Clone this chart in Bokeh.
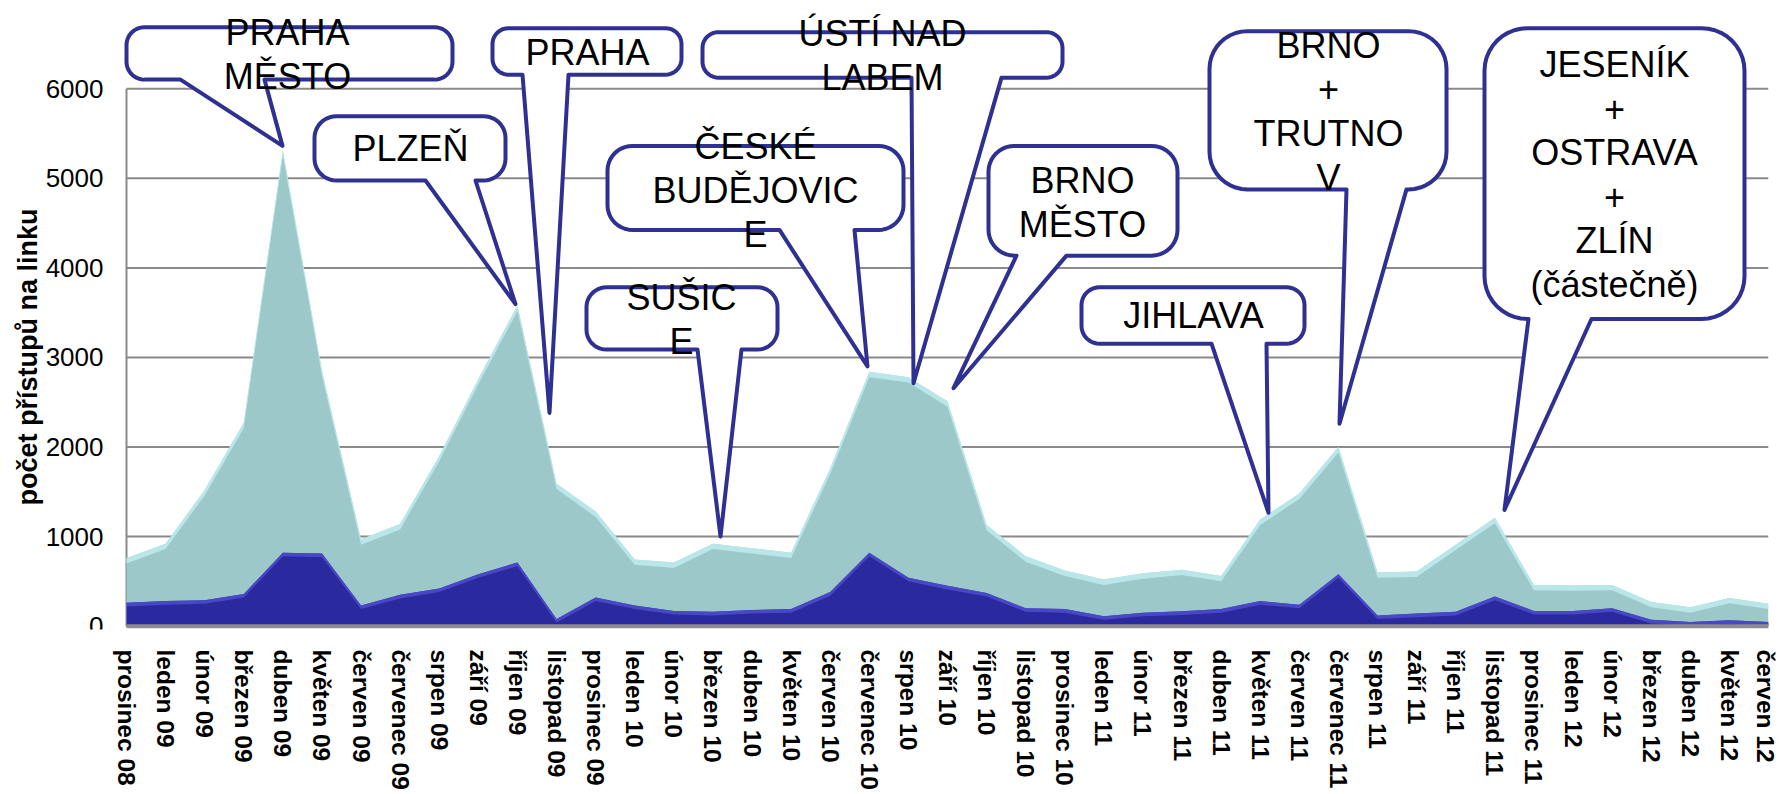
import math
from bokeh.plotting import figure
from bokeh.models import Range1d, FixedTicker, ColumnDataSource
from bokeh.core.properties import value
from bokeh.embed import file_html
from bokeh.resources import INLINE

# ---------------- data ----------------
months = ["prosinec 08", "leden 09", "únor 09", "březen 09", "duben 09", "květen 09",
          "červen 09", "červenec 09", "srpen 09", "září 09", "říjen 09", "listopad 09",
          "prosinec 09", "leden 10", "únor 10", "březen 10", "duben 10", "květen 10",
          "červen 10", "červenec 10", "srpen 10", "září 10", "říjen 10", "listopad 10",
          "prosinec 10", "leden 11", "únor 11", "březen 11", "duben 11", "květen 11",
          "červen 11", "červenec 11", "srpen 11", "září 11", "říjen 11", "listopad 11",
          "prosinec 11", "leden 12", "únor 12", "březen 12", "duben 12", "květen 12",
          "červen 12"]

series_light = [760, 920, 1520, 2270, 5310, 2850, 970, 1140, 1900, 2760,
                3580, 1590, 1280, 745, 710, 920, 870, 820, 1760, 2840,
                2780, 2510, 1130, 780, 620, 520, 590, 630, 560, 1190,
                1480, 2000, 600, 610, 910, 1210, 460, 455, 460, 270,
                210, 315, 250]

series_dark = [260, 280, 290, 360, 820, 810, 230, 350, 420, 580,
               710, 80, 320, 230, 170, 160, 180, 190, 380, 820,
               540, 450, 370, 200, 190, 110, 150, 165, 190, 280,
               240, 580, 120, 140, 160, 330, 170, 170, 200, 70,
               45, 65, 45]

y_ticks = [0, 1000, 2000, 3000, 4000, 5000, 6000]
y_tick_labels = ["0", "1000", "2000", "3000", "4000", "5000", "6000"]
y_title = "počet přístupů na linku"

callout_texts = [["PRAHA", "MĚSTO"], ["PLZEŇ"], ["PRAHA"], ["ÚSTÍ NAD", "LABEM"],
                 ["ČESKÉ", "BUDĚJOVIC", "E"], ["SUŠIC", "E"], ["BRNO", "MĚSTO"],
                 ["JIHLAVA"], ["BRNO", "+", "TRUTNO", "V"],
                 ["JESENÍK", "+", "OSTRAVA", "+", "ZLÍN", "(částečně)"]]

# ---------------- layout (page pixels) ----------------
W, H = 1778, 792
N = len(months)
X_FIRST_PX, X_LAST_PX = 126.0, 1768.0     # first / last category
Y_ZERO_PX, Y_6000_PX = 632.6, 89.3        # value 0 / value 6000
FRAME_BOTTOM_PX = 636.0
PX_PER_CAT = (X_LAST_PX - X_FIRST_PX) / (N - 1)
PX_PER_UNIT = (Y_ZERO_PX - Y_6000_PX) / 6000.0

X_START = -X_FIRST_PX / PX_PER_CAT
Y_END = Y_ZERO_PX / PX_PER_UNIT
Y_START = -(FRAME_BOTTOM_PX - Y_ZERO_PX) / PX_PER_UNIT


def to_data(X, Y):
    return (X - X_FIRST_PX) / PX_PER_CAT, (Y_ZERO_PX - Y) / PX_PER_UNIT


# callout geometry: box (x0, y0, x1, y1), corner radius, tail base x's, tip, first text line
callout_layout = [
    dict(box=(126, 27, 452, 80), r=18, tail=(180, 264), tip=(282, 147), tx=287, ty=32),
    dict(box=(314, 117, 505, 182), r=22, tail=(425, 475), tip=(515, 307), tx=410, ty=150),
    dict(box=(492, 28, 681, 75), r=16, tail=(522, 568), tip=(549, 417), tx=587, ty=53),
    dict(box=(702, 32, 1062, 78), r=16, tail=(911, 1001), tip=(913, 387), tx=882, ty=33),
    dict(box=(607, 147, 903, 232), r=25, tail=(779, 854), tip=(867, 370), tx=755, ty=147.5),
    dict(box=(586, 290, 777, 353), r=20, tail=(697, 741), tip=(720, 542), tx=681, ty=300),
    dict(box=(988, 147, 1177, 258), r=26, tail=(1016, 1066), tip=(953, 392), tx=1082, ty=181.5),
    dict(box=(1081, 290, 1304, 347), r=18, tail=(1211, 1266), tip=(1268, 518), tx=1193, ty=318),
    dict(box=(1209, 31, 1446, 191), r=38, tail=(1346, 1406), tip=(1339, 428), tx=1328, ty=45),
    dict(box=(1484, 28, 1744, 322), r=43, tail=(1528, 1591), tip=(1504, 515), tx=1614, ty=65),
]
LINE_STEP = 44.5

LIGHT_FILL = "#9cc8c9"
LIGHT_EDGE = "#c0eef0"
DARK_FILL = "#2a2a9e"
DARK_EDGE = "#4f4fd2"
CALLOUT_LINE = "#2e3192"
GRID = "#8a8a8a"
FONT = "Liberation Sans"

p = figure(width=W, height=H, output_backend="svg", toolbar_location=None,
           x_range=Range1d(X_START, N - 1), y_range=Range1d(Y_START, Y_END),
           min_border_left=0, min_border_right=int(W - X_LAST_PX),
           min_border_top=0, min_border_bottom=int(H - FRAME_BOTTOM_PX))
p.outline_line_color = None
p.background_fill_color = "white"
p.xgrid.visible = False
p.ygrid.visible = False
p.yaxis.visible = False

# x axis (category labels)
p.xaxis.ticker = FixedTicker(ticks=list(range(N)))
p.xaxis.major_label_overrides = {i: m for i, m in enumerate(months)}
p.xaxis.major_label_orientation = "vertical"
p.xaxis.major_label_text_font = FONT
p.xaxis.major_label_text_font_style = "bold"
p.xaxis.major_label_text_font_size = "24.5px"
p.xaxis.major_label_text_color = "black"
p.xaxis.major_label_standoff = 14
p.xaxis.major_tick_line_color = None
p.xaxis.minor_tick_line_color = None
p.xaxis.axis_line_color = None

# gridlines and value axis line
p.segment(x0=[0] * len(y_ticks), y0=y_ticks, x1=[N - 1] * len(y_ticks), y1=y_ticks,
          line_color=GRID, line_width=2)
p.segment(x0=[0], y0=[0], x1=[0], y1=[max(y_ticks)], line_color=GRID, line_width=2)

# y tick labels and title
lx, _ = to_data(103, 0)
p.text(x=[lx] * len(y_ticks), y=y_ticks, text=y_tick_labels,
       text_font=value(FONT), text_font_size=value("26px"), text_color="black",
       text_align="right", text_baseline="middle")
tx, ty = to_data(27, 360.5)
p.text(x=[tx], y=[ty], text=[y_title], angle=math.pi / 2,
       text_font=value(FONT), text_font_size=value("27px"), text_font_style="bold",
       text_color="black", text_align="center", text_baseline="middle")

xs = list(range(N))
light_band = [max(v - 60, 0) for v in series_light]
dark_band = [max(v - 40, 0) for v in series_dark]

p.varea(x=xs, y1=[0] * N, y2=series_light, fill_color=LIGHT_FILL)
p.varea(x=xs, y1=light_band, y2=series_light, fill_color=LIGHT_EDGE, fill_alpha=0.8)
p.varea(x=xs, y1=[0] * N, y2=series_dark, fill_color=DARK_FILL)
p.varea(x=xs, y1=dark_band, y2=series_dark, fill_color=DARK_EDGE, fill_alpha=0.8)

# floor / category axis line
p.segment(x0=[0], y0=[0], x1=[N - 1], y1=[0], line_color="#8c8c8c", line_width=4)


def arc(cx, cy, r, a0, a1, n=10):
    return [(cx + r * math.cos(math.radians(a0 + (a1 - a0) * k / n)),
             cy + r * math.sin(math.radians(a0 + (a1 - a0) * k / n))) for k in range(n + 1)]


px_all, py_all = [], []
tx_all, ty_all, tt_all = [], [], []
for lines, lay in zip(callout_texts, callout_layout):
    x0, y0, x1, y1 = lay["box"]
    r = lay["r"]
    pts = []
    pts += arc(x0 + r, y0 + r, r, 180, 270)
    pts += arc(x1 - r, y0 + r, r, 270, 360)
    pts += arc(x1 - r, y1 - r, r, 0, 90)
    tl, tr = lay["tail"]
    pts += [(tr, y1), lay["tip"], (tl, y1)]
    pts += arc(x0 + r, y1 - r, r, 90, 180)
    dpts = [to_data(X, Y) for X, Y in pts]
    px_all.append([q[0] for q in dpts])
    py_all.append([q[1] for q in dpts])
    for k, t in enumerate(lines):
        dx, dy = to_data(lay["tx"], lay["ty"] + k * LINE_STEP)
        tx_all.append(dx)
        ty_all.append(dy)
        tt_all.append(t)

p.patches(xs=px_all, ys=py_all, fill_color="white", line_color=CALLOUT_LINE,
          line_width=4, line_join="round")

p.text(x="x", y="y", text="t",
       source=ColumnDataSource(dict(x=tx_all, y=ty_all, t=tt_all)),
       text_font=value(FONT), text_font_size=value("36px"),
       text_align="center", text_baseline="middle", text_color="black")

open("out.html", "w").write(file_html(p, INLINE))
